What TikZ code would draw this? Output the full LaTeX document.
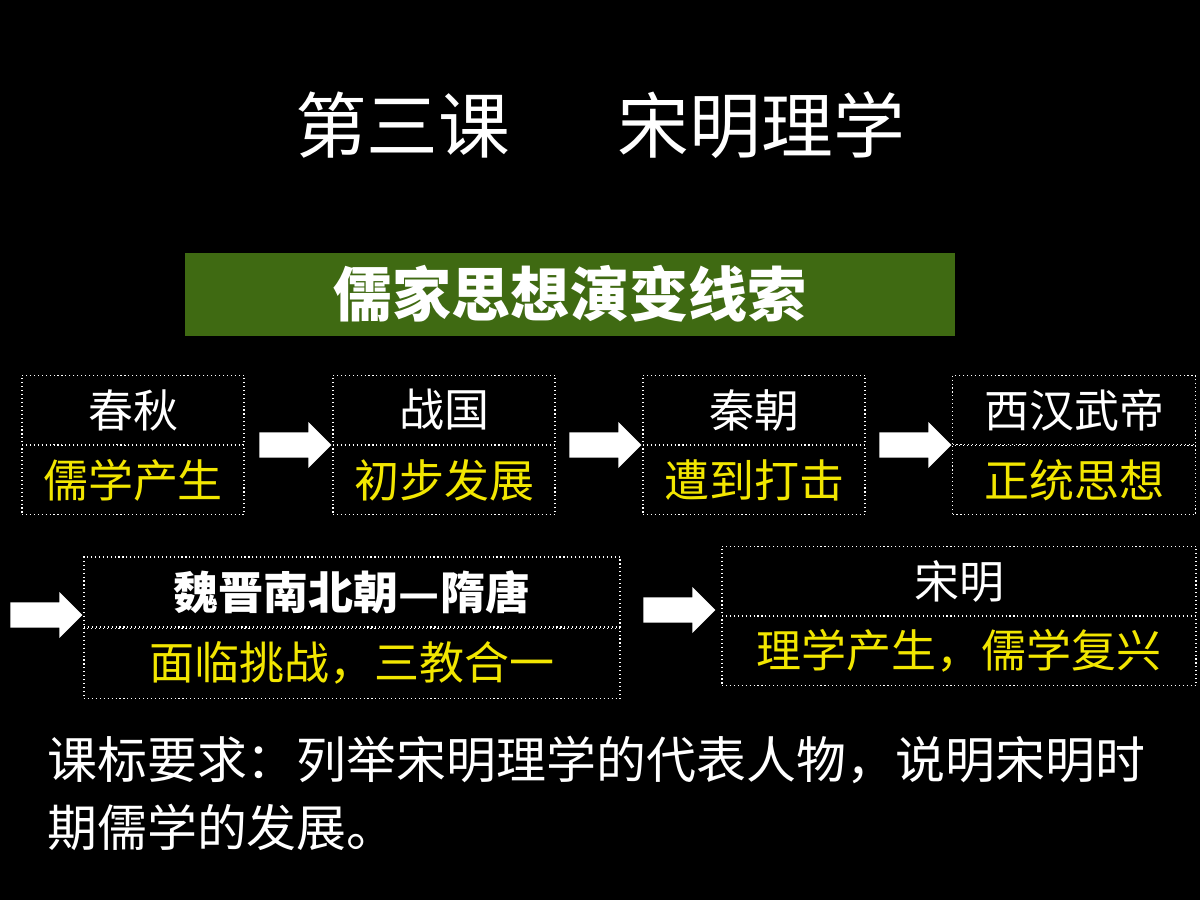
\documentclass[tikz,border=0pt]{standalone}
\usepackage{fontspec}
\setmainfont{Noto Sans CJK SC}
\usetikzlibrary{positioning, shapes.arrows}
\definecolor{leafgreen}{HTML}{3F6A12}
\definecolor{textyellow}{HTML}{F2E600}

\begin{document}
\begin{tikzpicture}[
        x=0.025cm, y=-0.025cm,
        node distance=0cm,
        cell/.style={rectangle, draw=white, dotted, thick, minimum height=69*0.025cm,
                minimum width=222*0.025cm, inner sep=0pt, font=\fontsize{32}{36}\selectfont},
        era/.style={cell, text=white},
        stage/.style={cell, text=textyellow, font=\fontsize{32}{36}\selectfont},
        blockarrow/.style={single arrow, fill=white, draw=none, minimum height=72*0.025cm,
                minimum width=46*0.025cm, single arrow head extend=10*0.025cm,
                single arrow head indent=0pt, inner sep=12*0.025cm},
        ]

        \fill[black] (0,0) rectangle (1200,900);

        \node[text=white, font=\fontsize{51}{56}\selectfont] (title) at (600,125) {第三课\hspace{1.5em}宋明理学};
        \node[fill=leafgreen, text=white, font=\bfseries\fontsize{42}{46}\selectfont,
            minimum width=770*0.025cm, minimum height=83*0.025cm] (theme) at (570,294) {儒家思想演变线索};

        % first row
        \node[era] (chunqiu) at (133,410) {春秋};
        \node[stage, below=of chunqiu] (chunqiuS) {儒学产生};
        \node[era] (zhanguo) at (444,410) {战国};
        \node[stage, below=of zhanguo] (zhanguoS) {初步发展};
        \node[era] (qin) at (754,410) {秦朝};
        \node[stage, below=of qin] (qinS) {遭到打击};
        \node[era, minimum width=243*0.025cm] (wudi) at (1074,410) {西汉武帝};
        \node[stage, minimum width=243*0.025cm, below=of wudi] (wudiS) {正统思想};

        \node[blockarrow, minimum height=72*0.025cm] (a1) at (289,445) {};
        \node[blockarrow, minimum height=72*0.025cm] (a2) at (599,445) {};
        \node[blockarrow, minimum height=72*0.025cm] (a3) at (909,445) {};

        % second row
        \node[era, minimum width=536*0.025cm, minimum height=70*0.025cm, font=\bfseries\fontsize{32}{36}\selectfont] (weijin) at (352,592) {魏晋南北朝—隋唐};
        \node[stage, minimum width=536*0.025cm, minimum height=70*0.025cm, below=of weijin] (weijinS) {面临挑战，三教合一};
        \node[era, minimum width=474*0.025cm] (songming) at (959,581) {宋明};
        \node[stage, minimum width=474*0.025cm, below=of songming] (songmingS) {理学产生，儒学复兴};

        \node[blockarrow] (a4) at (40,615) {};
        \node[blockarrow] (a5) at (673,610) {};

        \node[text=white, align=left, anchor=north west, inner sep=0pt,
            font=\fontsize{35.5}{48}\selectfont] (goal) at (47,736)
            {课标要求：列举宋明理学的代表人物，说明宋明时\\期儒学的发展。};
\end{tikzpicture}
\end{document}
